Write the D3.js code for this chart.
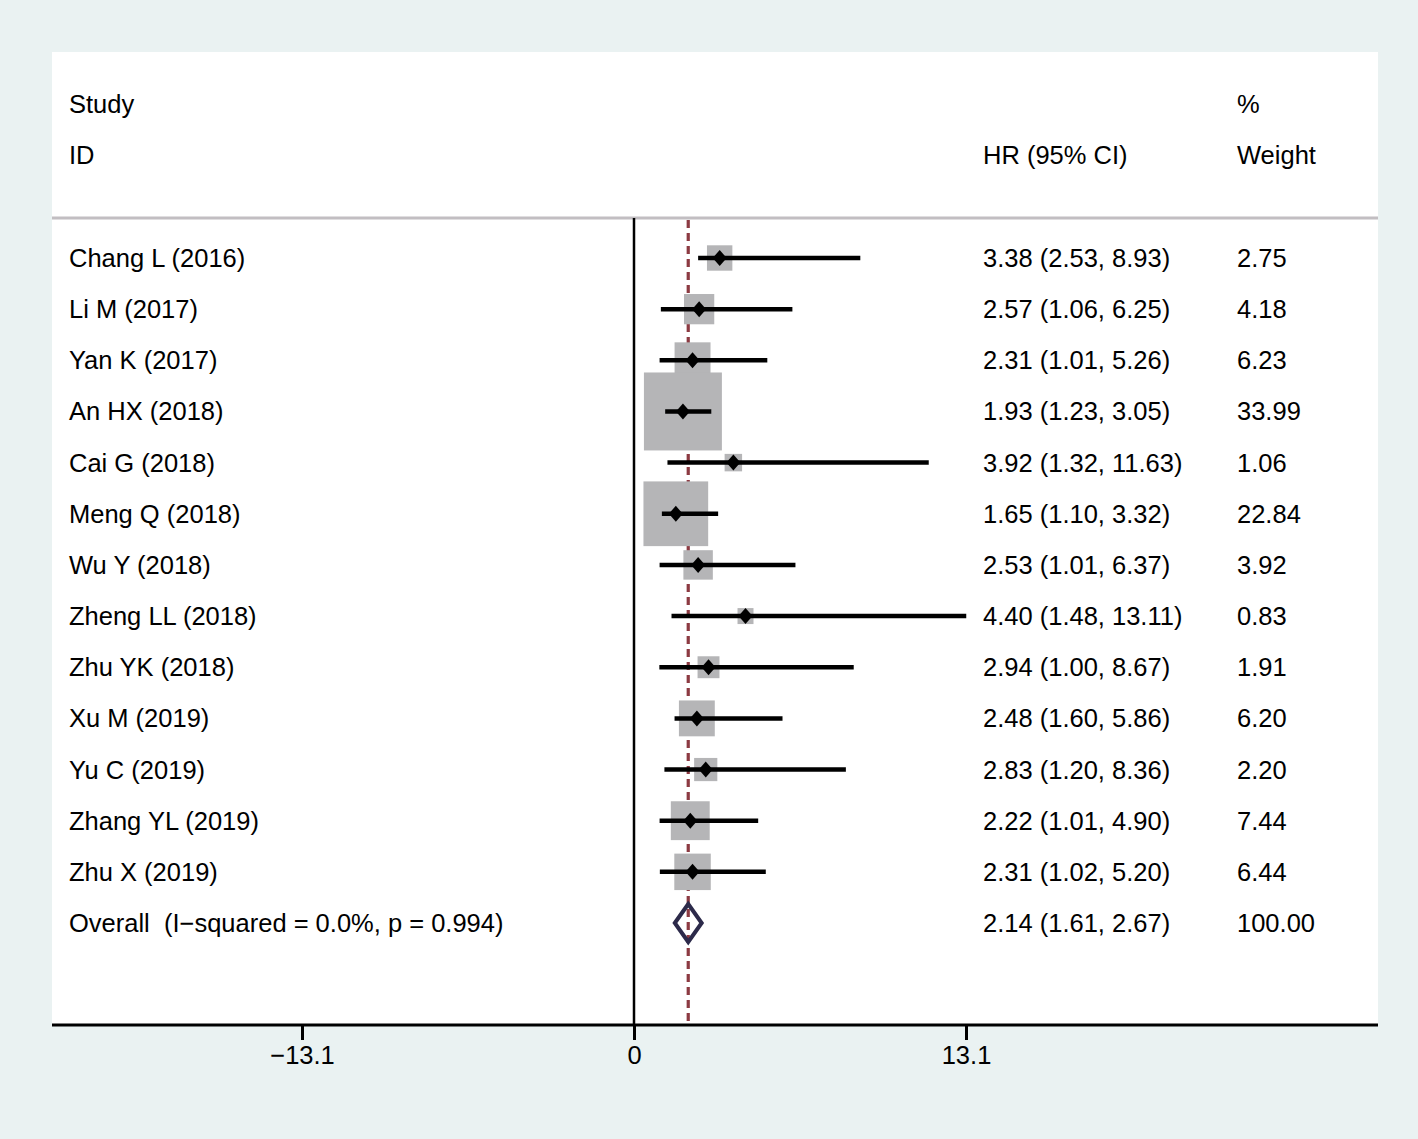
<!DOCTYPE html>
<html><head><meta charset="utf-8">
<script src="https://cdn.jsdelivr.net/npm/d3@7"></script>
<style>
html,body{margin:0;padding:0;background:#eaf2f2;}
svg{display:block;}
text{font-family:"Liberation Sans",Arial,Helvetica,sans-serif;fill:#000;}
</style></head>
<body>
<svg id="chart" width="1418" height="1139"></svg>
<script>
const studies = ["Chang L (2016)","Li M (2017)","Yan K (2017)","An HX (2018)","Cai G (2018)","Meng Q (2018)","Wu Y (2018)","Zheng LL (2018)","Zhu YK (2018)","Xu M (2019)","Yu C (2019)","Zhang YL (2019)","Zhu X (2019)"];
const hr =     [3.38,2.57,2.31,1.93,3.92,1.65,2.53,4.40,2.94,2.48,2.83,2.22,2.31];
const lower =  [2.53,1.06,1.01,1.23,1.32,1.10,1.01,1.48,1.00,1.60,1.20,1.01,1.02];
const upper =  [8.93,6.25,5.26,3.05,11.63,3.32,6.37,13.11,8.67,5.86,8.36,4.90,5.20];
const weights =["2.75","4.18","6.23","33.99","1.06","22.84","3.92","0.83","1.91","6.20","2.20","7.44","6.44"];
const overallLabel = "Overall  (I\u2212squared = 0.0%, p = 0.994)";
const overall = {hr:2.14, lo:1.61, hi:2.67, weight:"100.00"};
const tickValues = [-13.1, 0, 13.1];
const tickLabels = ["\u221213.1","0","13.1"];

const fmt = d3.format(".2f");
const svg = d3.select("#chart");
const panel = {x0:52, x1:1378, y0:52, y1:1025};

svg.append("rect").attr("x",panel.x0).attr("y",panel.y0)
  .attr("width",panel.x1-panel.x0).attr("height",panel.y1-panel.y0).attr("fill","#ffffff");

const x = d3.scaleLinear().domain([-13.1,13.1]).range([302,966]);
const rows = d3.range(studies.length+1);
const y = d3.scalePoint().domain(rows).range([258,923]);

const fs = 25.5;
const colStudy = 69, colHR = 983, colW = 1237;

const hdr = svg.append("g").attr("font-size",fs);
hdr.append("text").attr("x",colStudy).attr("y",113).text("Study");
hdr.append("text").attr("x",colStudy).attr("y",164).text("ID");
hdr.append("text").attr("x",colHR).attr("y",164).text("HR (95% CI)");
hdr.append("text").attr("x",colW).attr("y",113).text("%");
hdr.append("text").attr("x",colW).attr("y",164).text("Weight");

svg.append("line").attr("x1",panel.x0).attr("x2",panel.x1).attr("y1",218).attr("y2",218)
  .attr("stroke","#c2bec2").attr("stroke-width",3);

svg.append("line").attr("x1",x(0)).attr("x2",x(0)).attr("y1",218).attr("y2",panel.y1)
  .attr("stroke","#000").attr("stroke-width",2.5);

// overall dashed line (beneath boxes)
svg.append("line").attr("x1",x(overall.hr)).attr("x2",x(overall.hr)).attr("y1",220).attr("y2",panel.y1)
  .attr("stroke","#8c3a42").attr("stroke-width",3.2).attr("stroke-dasharray","8,5");

const data = studies.map((s,i)=>({s,hr:hr[i],lo:lower[i],hi:upper[i],w:weights[i],i}));
const side = w => 4.5+12.6*Math.sqrt(+w);

svg.append("g").selectAll("rect").data(data).join("rect")
  .attr("x",d=>x(d.hr)-side(d.w)/2)
  .attr("y",d=>y(d.i)-side(d.w)/2)
  .attr("width",d=>side(d.w))
  .attr("height",d=>side(d.w))
  .attr("fill","#b5b5b7");

svg.append("g").selectAll("line").data(data).join("line")
  .attr("x1",d=>x(d.lo)).attr("x2",d=>x(d.hi))
  .attr("y1",d=>y(d.i)).attr("y2",d=>y(d.i))
  .attr("stroke","#000").attr("stroke-width",4.5);

svg.append("g").selectAll("path").data(data).join("path")
  .attr("d",d=>{const cx=x(d.hr),cy=y(d.i);return `M${cx-7},${cy}L${cx},${cy-8}L${cx+7},${cy}L${cx},${cy+8}Z`;})
  .attr("fill","#000");

{
  const cy = y(studies.length);
  svg.append("path")
    .attr("d",`M${x(overall.lo)},${cy}L${x(overall.hr)},${cy-19}L${x(overall.hi)},${cy}L${x(overall.hr)},${cy+19}Z`)
    .attr("fill","none").attr("stroke","#2c2a4a").attr("stroke-width",4).attr("stroke-linejoin","miter");
}

const tg = svg.append("g").attr("font-size",fs);
tg.selectAll("text.s").data(data).join("text").attr("class","s")
  .attr("x",colStudy).attr("y",d=>y(d.i)+9).text(d=>d.s);
tg.selectAll("text.h").data(data).join("text").attr("class","h")
  .attr("x",colHR).attr("y",d=>y(d.i)+9).text(d=>`${fmt(d.hr)} (${fmt(d.lo)}, ${fmt(d.hi)})`);
tg.selectAll("text.w").data(data).join("text").attr("class","w")
  .attr("x",colW).attr("y",d=>y(d.i)+9).text(d=>d.w);
const oy = y(studies.length)+9;
tg.append("text").attr("x",colStudy).attr("y",oy).text(overallLabel).style("white-space","pre").attr("xml:space","preserve");
tg.append("text").attr("x",colHR).attr("y",oy).text(`${fmt(overall.hr)} (${fmt(overall.lo)}, ${fmt(overall.hi)})`);
tg.append("text").attr("x",colW).attr("y",oy).text(overall.weight);

svg.append("line").attr("x1",panel.x0).attr("x2",panel.x1).attr("y1",panel.y1).attr("y2",panel.y1)
  .attr("stroke","#000").attr("stroke-width",3);
const axis = d3.axisBottom(x).tickValues(tickValues).tickSize(15).tickPadding(6)
  .tickFormat((d,i)=>tickLabels[i]);
const ag = svg.append("g").attr("transform",`translate(0,${panel.y1})`).call(axis);
ag.select(".domain").remove();
ag.selectAll(".tick line").attr("stroke","#000").attr("stroke-width",3);
ag.selectAll(".tick text").attr("font-size",fs).attr("font-family","Liberation Sans, Arial, sans-serif").attr("fill","#000");
</script>
</body></html>
